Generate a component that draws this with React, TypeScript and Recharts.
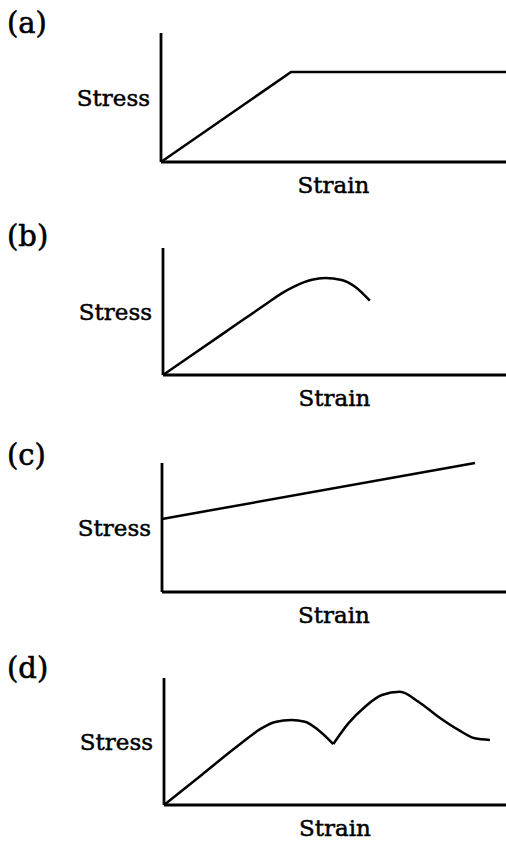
import React from "react";
import { LineChart, Line, XAxis, YAxis } from "recharts";

// (a) elastic - perfectly plastic
const strainA = [0, 37.7, 100];
const stressA = [0, 69.8, 69.8];

// (b) linear, then rounded peak and drop
const strainB = [0, 17.3, 31.0, 34.6, 38.5, 43.4, 47.2, 52.1, 56.0, 60.3];
const stressB = [0, 32.2, 57.7, 64.3, 70.0, 75.0, 76.4, 74.8, 69.5, 58.5];

// (c) offset straight line
const strainC = [0, 91];
const stressC = [56.6, 100];

// (d) two humps with a sharp dip between them
const strainD1 = [0, 11.0, 22.0, 28.6, 32.5, 37.3, 41.2, 45.1, 49.5];
const stressD1 = [0, 23.7, 47.4, 60.5, 65.3, 66.9, 65.6, 59.1, 48.0];
const strainD2 = [49.5, 53.9, 58.8, 63.7, 69.0, 74.4, 80.2, 86.1, 90.9, 95.3];
const stressD2 = [48.0, 64.3, 77.4, 86.6, 89.2, 81.3, 69.5, 59.1, 52.5, 51.2];

const panelLetters = ["(a)", "(b)", "(c)", "(d)"];
const xLabel = "Strain";
const yLabel = "Stress";

const toRows = (xs: number[], ys: number[]) =>
  xs.map((x, i) => ({ strain: x, stress: ys[i] }));

const FONT = "'DejaVu Serif', serif";

type PanelProps = {
  letter: string;
  letterTop: number;
  plotLeft: number;
  plotTop: number;
  plotBottom: number;
  segments: { strain: number; stress: number }[][];
  curve: "linear" | "monotone";
};

const labelStyle = {
  fill: "#000",
  stroke: "#000",
  strokeWidth: 0.5,
  fontSize: 23,
  fontFamily: FONT,
};

const Panel = ({ letter, letterTop, plotLeft, plotTop, plotBottom, segments, curve }: PanelProps) => {
  const mTop = 20;
  const mBottom = 50;
  const height = plotBottom - plotTop + mTop + mBottom + 1;
  return (
    <>
      <div
        style={{
          position: "absolute",
          left: 7,
          top: letterTop - 1,
          fontFamily: FONT,
          fontSize: 29,
          lineHeight: "29px",
          color: "#000",
          WebkitTextStroke: "0.6px #000",
        }}
      >
        {letter}
      </div>
      <div style={{ position: "absolute", left: 0, top: plotTop - mTop }}>
        <LineChart
          width={506}
          height={height}
          margin={{ top: mTop, right: 0, bottom: mBottom, left: plotLeft - 1 }}
        >
          <XAxis
            type="number"
            dataKey="strain"
            domain={[0, 100]}
            height={1}
            tick={false}
            tickLine={false}
            axisLine={{ stroke: "#000", strokeWidth: 2.8 }}
            label={{ value: xLabel, position: "bottom", offset: 14, ...labelStyle }}
          />
          <YAxis
            type="number"
            dataKey="stress"
            domain={[0, 100]}
            width={1}
            tick={false}
            tickLine={false}
            axisLine={{ stroke: "#000", strokeWidth: 2.8 }}
            label={{ value: yLabel, position: "left", offset: 10, ...labelStyle }}
          />
          {segments.map((seg, i) => (
            <Line
              key={i}
              data={seg}
              dataKey="stress"
              type={curve}
              stroke="#000"
              strokeWidth={2.5}
              dot={false}
              activeDot={false}
              isAnimationActive={false}
            />
          ))}
        </LineChart>
      </div>
    </>
  );
};

export default function App() {
  return (
    <div style={{ position: "absolute", left: 0, top: 0, width: 506, height: 846, background: "#fff" }}>
      <Panel
        letter={panelLetters[0]}
        letterTop={10}
        plotLeft={161}
        plotTop={33}
        plotBottom={162}
        segments={[toRows(strainA, stressA)]}
        curve="linear"
      />
      <Panel
        letter={panelLetters[1]}
        letterTop={223}
        plotLeft={163}
        plotTop={248}
        plotBottom={375}
        segments={[toRows(strainB, stressB)]}
        curve="monotone"
      />
      <Panel
        letter={panelLetters[2]}
        letterTop={442}
        plotLeft={162}
        plotTop={463}
        plotBottom={592}
        segments={[toRows(strainC, stressC)]}
        curve="linear"
      />
      <Panel
        letter={panelLetters[3]}
        letterTop={655}
        plotLeft={164}
        plotTop={678}
        plotBottom={805}
        segments={[toRows(strainD1, stressD1), toRows(strainD2, stressD2)]}
        curve="monotone"
      />
    </div>
  );
}
